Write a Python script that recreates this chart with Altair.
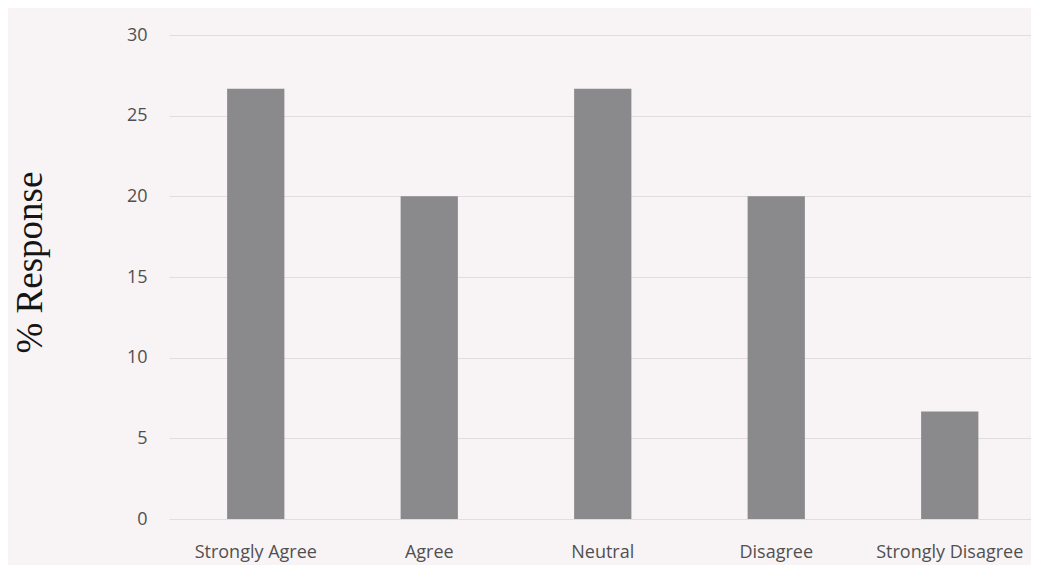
import altair as alt
import pandas as pd

categories = ["Strongly Agree", "Agree", "Neutral", "Disagree", "Strongly Disagree"]
values = [26.67, 20.0, 26.67, 20.0, 6.67]
y_ticks = [0, 5, 10, 15, 20, 25, 30]

df = pd.DataFrame({"category": categories, "value": values})

bg = "#f8f4f6"

chart = alt.Chart(df).mark_bar(color="#8a898b").encode(
    x=alt.X("category:N", sort=categories,
            scale=alt.Scale(paddingInner=0.67, paddingOuter=0.335, range=[0, 867.5]),
            axis=alt.Axis(title=None, labelAngle=0, labelFont="Open Sans",
                          labelFontSize=18, labelColor="#505050", labelPadding=24,
                          ticks=False, domain=False, grid=False)),
    y=alt.Y("value:Q", scale=alt.Scale(domain=[0, 30], nice=False),
            axis=alt.Axis(title="% Response", values=y_ticks, labelFont="Open Sans",
                          labelFontSize=18, labelColor="#505050", labelPadding=22,
                          ticks=False, domain=False, grid=True, gridColor="#e2dcdf",
                          gridWidth=1, titleFont="Liberation Serif", titleFontSize=37,
                          titleFontWeight="normal", titleColor="#151515",
                          titleAngle=-90, titleX=-139, titleY=227,
                          titleAlign="center", titleBaseline="middle")),
).properties(
    width=860, height=484,
    autosize=alt.AutoSizeParams(type="none"),
    padding={"left": 161, "top": 27, "right": 2, "bottom": 46},
    background=bg,
).configure_view(stroke=None)

chart.save("out.html", embed_options={"renderer": "svg", "actions": False})
